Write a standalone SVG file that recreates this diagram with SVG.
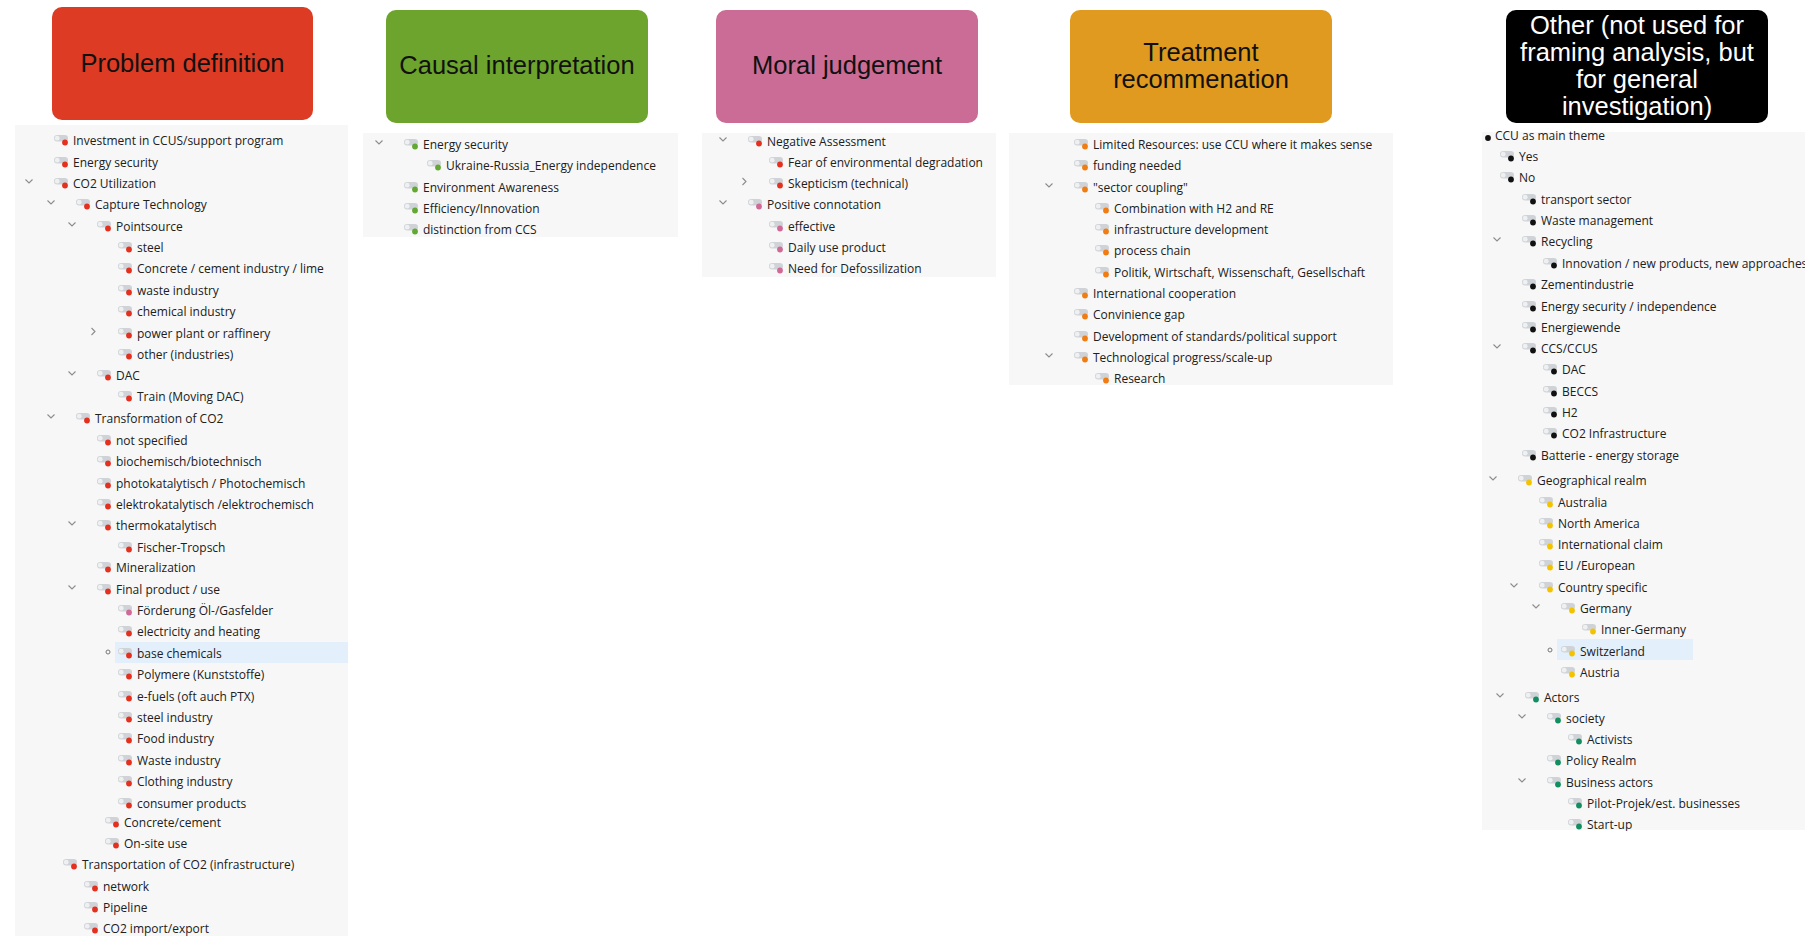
<svg xmlns="http://www.w3.org/2000/svg" xmlns:xlink="http://www.w3.org/1999/xlink" width="1818" height="936" viewBox="0 0 1818 936">
<style>
.hd{font-family:"Liberation Sans",Arial,sans-serif;font-size:25.5px;text-anchor:middle;fill:#111}
.hw{fill:#fff}
.it{font-family:"Open Sans","Noto Sans",sans-serif;font-size:12px;fill:#202020}
.panel{fill:#f7f7f7}
.hl{fill:#e3f0fb}
.dr{fill:#e3301f}.dp{fill:#cf6a98}.dg{fill:#62a832}.do{fill:#f07c12}.dk{fill:#111}.dy{fill:#f4c300}.dt{fill:#128e60}
</style>
<defs>
<g id="pill"><rect x="-19" y="-10" width="14" height="6.5" rx="3.2" fill="#cfd3d7"/><circle cx="-15.8" cy="-6.8" r="2.4" fill="#eef0f2"/></g>
<path id="cd" d="M-47.5,-8.5 L-44,-5 L-40.5,-8.5" fill="none" stroke="#8c8c8c" stroke-width="1.1"/>
<path id="cr" d="M-45.5,-10 L-42,-6.5 L-45.5,-3" fill="none" stroke="#8c8c8c" stroke-width="1.1"/>
<clipPath id="clipO"><rect x="1482" y="131" width="323" height="700"/></clipPath>
</defs>
<rect width="1818" height="936" fill="#fff"/>

<!-- headers -->
<g id="hdr-problem"><rect x="52" y="7" width="261" height="113" rx="10" fill="#dd3b24"/><text class="hd" x="182.5" y="72">Problem definition</text></g>
<g id="hdr-causal"><rect x="386" y="10" width="262" height="113" rx="10" fill="#6ca42d"/><text class="hd" x="517" y="74">Causal interpretation</text></g>
<g id="hdr-moral"><rect x="716" y="10" width="262" height="113" rx="10" fill="#ca6c95"/><text class="hd" x="847" y="74">Moral judgement</text></g>
<g id="hdr-treatment"><rect x="1070" y="10" width="262" height="113" rx="10" fill="#df9a1f"/><text class="hd" x="1201" y="61">Treatment</text><text class="hd" x="1201" y="88">recommenation</text></g>
<g id="hdr-other"><rect x="1506" y="10" width="262" height="113" rx="10" fill="#000"/><text class="hd hw" x="1637" y="34">Other (not used for</text><text class="hd hw" x="1637" y="61">framing analysis, but</text><text class="hd hw" x="1637" y="88">for general</text><text class="hd hw" x="1637" y="115">investigation)</text></g>

<g id="connectors"/>

<!-- Problem definition list -->
<g id="list-problem">
<rect class="panel" x="15" y="125" width="333" height="811"/>
<rect class="hl" x="115" y="642" width="233" height="21"/>
<circle cx="108" cy="652" r="2" fill="none" stroke="#777" stroke-width="1"/>
<g id="pd01" transform="translate(73,145)"><use href="#pill"/><circle class="dr" cx="-8" cy="-2.5" r="2.9"/><text class="it">Investment in CCUS/support program</text></g>
<g id="pd02" transform="translate(73,167)"><use href="#pill"/><circle class="dr" cx="-8" cy="-2.5" r="2.9"/><text class="it">Energy security</text></g>
<g id="pd03" transform="translate(73,188)"><use href="#cd"/><use href="#pill"/><circle class="dr" cx="-8" cy="-2.5" r="2.9"/><text class="it">CO2 Utilization</text></g>
<g id="pd04" transform="translate(95,209)"><use href="#cd"/><use href="#pill"/><circle class="dr" cx="-8" cy="-2.5" r="2.9"/><text class="it">Capture Technology</text></g>
<g id="pd05" transform="translate(116,231)"><use href="#cd"/><use href="#pill"/><circle class="dr" cx="-8" cy="-2.5" r="2.9"/><text class="it">Pointsource</text></g>
<g id="pd06" transform="translate(137,252)"><use href="#pill"/><circle class="dr" cx="-8" cy="-2.5" r="2.9"/><text class="it">steel</text></g>
<g id="pd07" transform="translate(137,273)"><use href="#pill"/><circle class="dr" cx="-8" cy="-2.5" r="2.9"/><text class="it">Concrete / cement industry / lime</text></g>
<g id="pd08" transform="translate(137,295)"><use href="#pill"/><circle class="dr" cx="-8" cy="-2.5" r="2.9"/><text class="it">waste industry</text></g>
<g id="pd09" transform="translate(137,316)"><use href="#pill"/><circle class="dr" cx="-8" cy="-2.5" r="2.9"/><text class="it">chemical industry</text></g>
<g id="pd10" transform="translate(137,338)"><use href="#cr"/><use href="#pill"/><circle class="dr" cx="-8" cy="-2.5" r="2.9"/><text class="it">power plant or raffinery</text></g>
<g id="pd11" transform="translate(137,359)"><use href="#pill"/><circle class="dr" cx="-8" cy="-2.5" r="2.9"/><text class="it">other (industries)</text></g>
<g id="pd12" transform="translate(116,380)"><use href="#cd"/><use href="#pill"/><circle class="dr" cx="-8" cy="-2.5" r="2.9"/><text class="it">DAC</text></g>
<g id="pd13" transform="translate(137,401)"><use href="#pill"/><circle class="dr" cx="-8" cy="-2.5" r="2.9"/><text class="it">Train (Moving DAC)</text></g>
<g id="pd14" transform="translate(95,423)"><use href="#cd"/><use href="#pill"/><circle class="dr" cx="-8" cy="-2.5" r="2.9"/><text class="it">Transformation of CO2</text></g>
<g id="pd15" transform="translate(116,445)"><use href="#pill"/><circle class="dr" cx="-8" cy="-2.5" r="2.9"/><text class="it">not specified</text></g>
<g id="pd16" transform="translate(116,466)"><use href="#pill"/><circle class="dr" cx="-8" cy="-2.5" r="2.9"/><text class="it">biochemisch/biotechnisch</text></g>
<g id="pd17" transform="translate(116,488)"><use href="#pill"/><circle class="dr" cx="-8" cy="-2.5" r="2.9"/><text class="it">photokatalytisch / Photochemisch</text></g>
<g id="pd18" transform="translate(116,509)"><use href="#pill"/><circle class="dr" cx="-8" cy="-2.5" r="2.9"/><text class="it">elektrokatalytisch /elektrochemisch</text></g>
<g id="pd19" transform="translate(116,530)"><use href="#cd"/><use href="#pill"/><circle class="dr" cx="-8" cy="-2.5" r="2.9"/><text class="it">thermokatalytisch</text></g>
<g id="pd20" transform="translate(137,552)"><use href="#pill"/><circle class="dr" cx="-8" cy="-2.5" r="2.9"/><text class="it">Fischer-Tropsch</text></g>
<g id="pd21" transform="translate(116,572)"><use href="#pill"/><circle class="dr" cx="-8" cy="-2.5" r="2.9"/><text class="it">Mineralization</text></g>
<g id="pd22" transform="translate(116,594)"><use href="#cd"/><use href="#pill"/><circle class="dr" cx="-8" cy="-2.5" r="2.9"/><text class="it">Final product / use</text></g>
<g id="pd23" transform="translate(137,615)"><use href="#pill"/><circle class="dp" cx="-8" cy="-2.5" r="2.9"/><text class="it">Förderung Öl-/Gasfelder</text></g>
<g id="pd24" transform="translate(137,636)"><use href="#pill"/><circle class="dr" cx="-8" cy="-2.5" r="2.9"/><text class="it">electricity and heating</text></g>
<g id="pd25" transform="translate(137,658)"><use href="#pill"/><circle class="dr" cx="-8" cy="-2.5" r="2.9"/><text class="it">base chemicals</text></g>
<g id="pd26" transform="translate(137,679)"><use href="#pill"/><circle class="dr" cx="-8" cy="-2.5" r="2.9"/><text class="it">Polymere (Kunststoffe)</text></g>
<g id="pd27" transform="translate(137,701)"><use href="#pill"/><circle class="dr" cx="-8" cy="-2.5" r="2.9"/><text class="it">e-fuels (oft auch PTX)</text></g>
<g id="pd28" transform="translate(137,722)"><use href="#pill"/><circle class="dr" cx="-8" cy="-2.5" r="2.9"/><text class="it">steel industry</text></g>
<g id="pd29" transform="translate(137,743)"><use href="#pill"/><circle class="dr" cx="-8" cy="-2.5" r="2.9"/><text class="it">Food industry</text></g>
<g id="pd30" transform="translate(137,765)"><use href="#pill"/><circle class="dr" cx="-8" cy="-2.5" r="2.9"/><text class="it">Waste industry</text></g>
<g id="pd31" transform="translate(137,786)"><use href="#pill"/><circle class="dr" cx="-8" cy="-2.5" r="2.9"/><text class="it">Clothing industry</text></g>
<g id="pd32" transform="translate(137,808)"><use href="#pill"/><circle class="dr" cx="-8" cy="-2.5" r="2.9"/><text class="it">consumer products</text></g>
<g id="pd33" transform="translate(124,827)"><use href="#pill"/><circle class="dr" cx="-8" cy="-2.5" r="2.9"/><text class="it">Concrete/cement</text></g>
<g id="pd34" transform="translate(124,848)"><use href="#pill"/><circle class="dr" cx="-8" cy="-2.5" r="2.9"/><text class="it">On-site use</text></g>
<g id="pd35" transform="translate(82,869)"><use href="#pill"/><circle class="dr" cx="-8" cy="-2.5" r="2.9"/><text class="it">Transportation of CO2 (infrastructure)</text></g>
<g id="pd36" transform="translate(103,891)"><use href="#pill"/><circle class="dr" cx="-8" cy="-2.5" r="2.9"/><text class="it">network</text></g>
<g id="pd37" transform="translate(103,912)"><use href="#pill"/><circle class="dr" cx="-8" cy="-2.5" r="2.9"/><text class="it">Pipeline</text></g>
<g id="pd38" transform="translate(103,933)"><use href="#pill"/><circle class="dr" cx="-8" cy="-2.5" r="2.9"/><text class="it">CO2 import/export</text></g>
</g>

<!-- Causal interpretation list -->
<g id="list-causal">
<rect class="panel" x="363" y="133" width="315" height="104"/>
<g id="ci1" transform="translate(423,149)"><use href="#cd"/><use href="#pill"/><circle class="dg" cx="-8" cy="-2.5" r="2.9"/><text class="it">Energy security</text></g>
<g id="ci2" transform="translate(446,170)"><use href="#pill"/><circle class="dg" cx="-8" cy="-2.5" r="2.9"/><text class="it">Ukraine-Russia_Energy independence</text></g>
<g id="ci3" transform="translate(423,192)"><use href="#pill"/><circle class="dg" cx="-8" cy="-2.5" r="2.9"/><text class="it">Environment Awareness</text></g>
<g id="ci4" transform="translate(423,213)"><use href="#pill"/><circle class="dg" cx="-8" cy="-2.5" r="2.9"/><text class="it">Efficiency/Innovation</text></g>
<g id="ci5" transform="translate(423,234)"><use href="#pill"/><circle class="dg" cx="-8" cy="-2.5" r="2.9"/><text class="it">distinction from CCS</text></g>
</g>

<!-- Moral judgement list -->
<g id="list-moral">
<rect class="panel" x="702" y="133" width="294" height="144"/>
<g id="mj1" transform="translate(767,146)"><use href="#cd"/><use href="#pill"/><circle class="dr" cx="-8" cy="-2.5" r="2.9"/><text class="it">Negative Assessment</text></g>
<g id="mj2" transform="translate(788,167)"><use href="#pill"/><circle class="dr" cx="-8" cy="-2.5" r="2.9"/><text class="it">Fear of environmental degradation</text></g>
<g id="mj3" transform="translate(788,188)"><use href="#cr"/><use href="#pill"/><circle class="dr" cx="-8" cy="-2.5" r="2.9"/><text class="it">Skepticism (technical)</text></g>
<g id="mj4" transform="translate(767,209)"><use href="#cd"/><use href="#pill"/><circle class="dp" cx="-8" cy="-2.5" r="2.9"/><text class="it">Positive connotation</text></g>
<g id="mj5" transform="translate(788,231)"><use href="#pill"/><circle class="dp" cx="-8" cy="-2.5" r="2.9"/><text class="it">effective</text></g>
<g id="mj6" transform="translate(788,252)"><use href="#pill"/><circle class="dp" cx="-8" cy="-2.5" r="2.9"/><text class="it">Daily use product</text></g>
<g id="mj7" transform="translate(788,273)"><use href="#pill"/><circle class="dp" cx="-8" cy="-2.5" r="2.9"/><text class="it">Need for Defossilization</text></g>
</g>

<!-- Treatment recommendation list -->
<g id="list-treatment">
<rect class="panel" x="1009" y="133" width="384" height="252"/>
<g id="tr01" transform="translate(1093,149)"><use href="#pill"/><circle class="do" cx="-8" cy="-2.5" r="2.9"/><text class="it">Limited Resources: use CCU where it makes sense</text></g>
<g id="tr02" transform="translate(1093,170)"><use href="#pill"/><circle class="do" cx="-8" cy="-2.5" r="2.9"/><text class="it">funding needed</text></g>
<g id="tr03" transform="translate(1093,192)"><use href="#cd"/><use href="#pill"/><circle class="do" cx="-8" cy="-2.5" r="2.9"/><text class="it">"sector coupling"</text></g>
<g id="tr04" transform="translate(1114,213)"><use href="#pill"/><circle class="do" cx="-8" cy="-2.5" r="2.9"/><text class="it">Combination with H2 and RE</text></g>
<g id="tr05" transform="translate(1114,234)"><use href="#pill"/><circle class="do" cx="-8" cy="-2.5" r="2.9"/><text class="it">infrastructure development</text></g>
<g id="tr06" transform="translate(1114,255)"><use href="#pill"/><circle class="do" cx="-8" cy="-2.5" r="2.9"/><text class="it">process chain</text></g>
<g id="tr07" transform="translate(1114,277)"><use href="#pill"/><circle class="do" cx="-8" cy="-2.5" r="2.9"/><text class="it">Politik, Wirtschaft, Wissenschaft, Gesellschaft</text></g>
<g id="tr08" transform="translate(1093,298)"><use href="#pill"/><circle class="do" cx="-8" cy="-2.5" r="2.9"/><text class="it">International cooperation</text></g>
<g id="tr09" transform="translate(1093,319)"><use href="#pill"/><circle class="do" cx="-8" cy="-2.5" r="2.9"/><text class="it">Convinience gap</text></g>
<g id="tr10" transform="translate(1093,341)"><use href="#pill"/><circle class="do" cx="-8" cy="-2.5" r="2.9"/><text class="it">Development of standards/political support</text></g>
<g id="tr11" transform="translate(1093,362)"><use href="#cd"/><use href="#pill"/><circle class="do" cx="-8" cy="-2.5" r="2.9"/><text class="it">Technological progress/scale-up</text></g>
<g id="tr12" transform="translate(1114,383)"><use href="#pill"/><circle class="do" cx="-8" cy="-2.5" r="2.9"/><text class="it">Research</text></g>
</g>

<!-- Other list -->
<g id="list-other" clip-path="url(#clipO)">
<rect class="panel" x="1482" y="132" width="323" height="698"/>
<rect class="hl" x="1557" y="639" width="136" height="21"/>
<circle cx="1550" cy="650" r="2" fill="none" stroke="#777" stroke-width="1"/>
<g id="ot01" transform="translate(1495,140)"><circle class="dk" cx="-7" cy="-2" r="2.9"/><text class="it">CCU as main theme</text></g>
<g id="ot02" transform="translate(1519,161)"><use href="#pill"/><circle class="dk" cx="-8" cy="-2.5" r="2.9"/><text class="it">Yes</text></g>
<g id="ot03" transform="translate(1519,182)"><use href="#pill"/><circle class="dk" cx="-8" cy="-2.5" r="2.9"/><text class="it">No</text></g>
<g id="ot04" transform="translate(1541,204)"><use href="#pill"/><circle class="dk" cx="-8" cy="-2.5" r="2.9"/><text class="it">transport sector</text></g>
<g id="ot05" transform="translate(1541,225)"><use href="#pill"/><circle class="dk" cx="-8" cy="-2.5" r="2.9"/><text class="it">Waste management</text></g>
<g id="ot06" transform="translate(1541,246)"><use href="#cd"/><use href="#pill"/><circle class="dk" cx="-8" cy="-2.5" r="2.9"/><text class="it">Recycling</text></g>
<g id="ot07" transform="translate(1562,268)"><use href="#pill"/><circle class="dk" cx="-8" cy="-2.5" r="2.9"/><text class="it">Innovation / new products, new approaches</text></g>
<g id="ot08" transform="translate(1541,289)"><use href="#pill"/><circle class="dk" cx="-8" cy="-2.5" r="2.9"/><text class="it">Zementindustrie</text></g>
<g id="ot09" transform="translate(1541,311)"><use href="#pill"/><circle class="dk" cx="-8" cy="-2.5" r="2.9"/><text class="it">Energy security / independence</text></g>
<g id="ot10" transform="translate(1541,332)"><use href="#pill"/><circle class="dk" cx="-8" cy="-2.5" r="2.9"/><text class="it">Energiewende</text></g>
<g id="ot11" transform="translate(1541,353)"><use href="#cd"/><use href="#pill"/><circle class="dk" cx="-8" cy="-2.5" r="2.9"/><text class="it">CCS/CCUS</text></g>
<g id="ot12" transform="translate(1562,374)"><use href="#pill"/><circle class="dk" cx="-8" cy="-2.5" r="2.9"/><text class="it">DAC</text></g>
<g id="ot13" transform="translate(1562,396)"><use href="#pill"/><circle class="dk" cx="-8" cy="-2.5" r="2.9"/><text class="it">BECCS</text></g>
<g id="ot14" transform="translate(1562,417)"><use href="#pill"/><circle class="dk" cx="-8" cy="-2.5" r="2.9"/><text class="it">H2</text></g>
<g id="ot15" transform="translate(1562,438)"><use href="#pill"/><circle class="dk" cx="-8" cy="-2.5" r="2.9"/><text class="it">CO2 Infrastructure</text></g>
<g id="ot16" transform="translate(1541,460)"><use href="#pill"/><circle class="dk" cx="-8" cy="-2.5" r="2.9"/><text class="it">Batterie - energy storage</text></g>
<g id="ot17" transform="translate(1537,485)"><use href="#cd"/><use href="#pill"/><circle class="dy" cx="-8" cy="-2.5" r="2.9"/><text class="it">Geographical realm</text></g>
<g id="ot18" transform="translate(1558,507)"><use href="#pill"/><circle class="dy" cx="-8" cy="-2.5" r="2.9"/><text class="it">Australia</text></g>
<g id="ot19" transform="translate(1558,528)"><use href="#pill"/><circle class="dy" cx="-8" cy="-2.5" r="2.9"/><text class="it">North America</text></g>
<g id="ot20" transform="translate(1558,549)"><use href="#pill"/><circle class="dy" cx="-8" cy="-2.5" r="2.9"/><text class="it">International claim</text></g>
<g id="ot21" transform="translate(1558,570)"><use href="#pill"/><circle class="dy" cx="-8" cy="-2.5" r="2.9"/><text class="it">EU /European</text></g>
<g id="ot22" transform="translate(1558,592)"><use href="#cd"/><use href="#pill"/><circle class="dy" cx="-8" cy="-2.5" r="2.9"/><text class="it">Country specific</text></g>
<g id="ot23" transform="translate(1580,613)"><use href="#cd"/><use href="#pill"/><circle class="dy" cx="-8" cy="-2.5" r="2.9"/><text class="it">Germany</text></g>
<g id="ot24" transform="translate(1601,634)"><use href="#pill"/><circle class="dy" cx="-8" cy="-2.5" r="2.9"/><text class="it">Inner-Germany</text></g>
<g id="ot25" transform="translate(1580,656)"><use href="#pill"/><circle class="dy" cx="-8" cy="-2.5" r="2.9"/><text class="it">Switzerland</text></g>
<g id="ot26" transform="translate(1580,677)"><use href="#pill"/><circle class="dy" cx="-8" cy="-2.5" r="2.9"/><text class="it">Austria</text></g>
<g id="ot27" transform="translate(1544,702)"><use href="#cd"/><use href="#pill"/><circle class="dt" cx="-8" cy="-2.5" r="2.9"/><text class="it">Actors</text></g>
<g id="ot28" transform="translate(1566,723)"><use href="#cd"/><use href="#pill"/><circle class="dt" cx="-8" cy="-2.5" r="2.9"/><text class="it">society</text></g>
<g id="ot29" transform="translate(1587,744)"><use href="#pill"/><circle class="dt" cx="-8" cy="-2.5" r="2.9"/><text class="it">Activists</text></g>
<g id="ot30" transform="translate(1566,765)"><use href="#pill"/><circle class="dt" cx="-8" cy="-2.5" r="2.9"/><text class="it">Policy Realm</text></g>
<g id="ot31" transform="translate(1566,787)"><use href="#cd"/><use href="#pill"/><circle class="dt" cx="-8" cy="-2.5" r="2.9"/><text class="it">Business actors</text></g>
<g id="ot32" transform="translate(1587,808)"><use href="#pill"/><circle class="dt" cx="-8" cy="-2.5" r="2.9"/><text class="it">Pilot-Projek/est. businesses</text></g>
<g id="ot33" transform="translate(1587,829)"><use href="#pill"/><circle class="dt" cx="-8" cy="-2.5" r="2.9"/><text class="it">Start-up</text></g>
</g>
</svg>
